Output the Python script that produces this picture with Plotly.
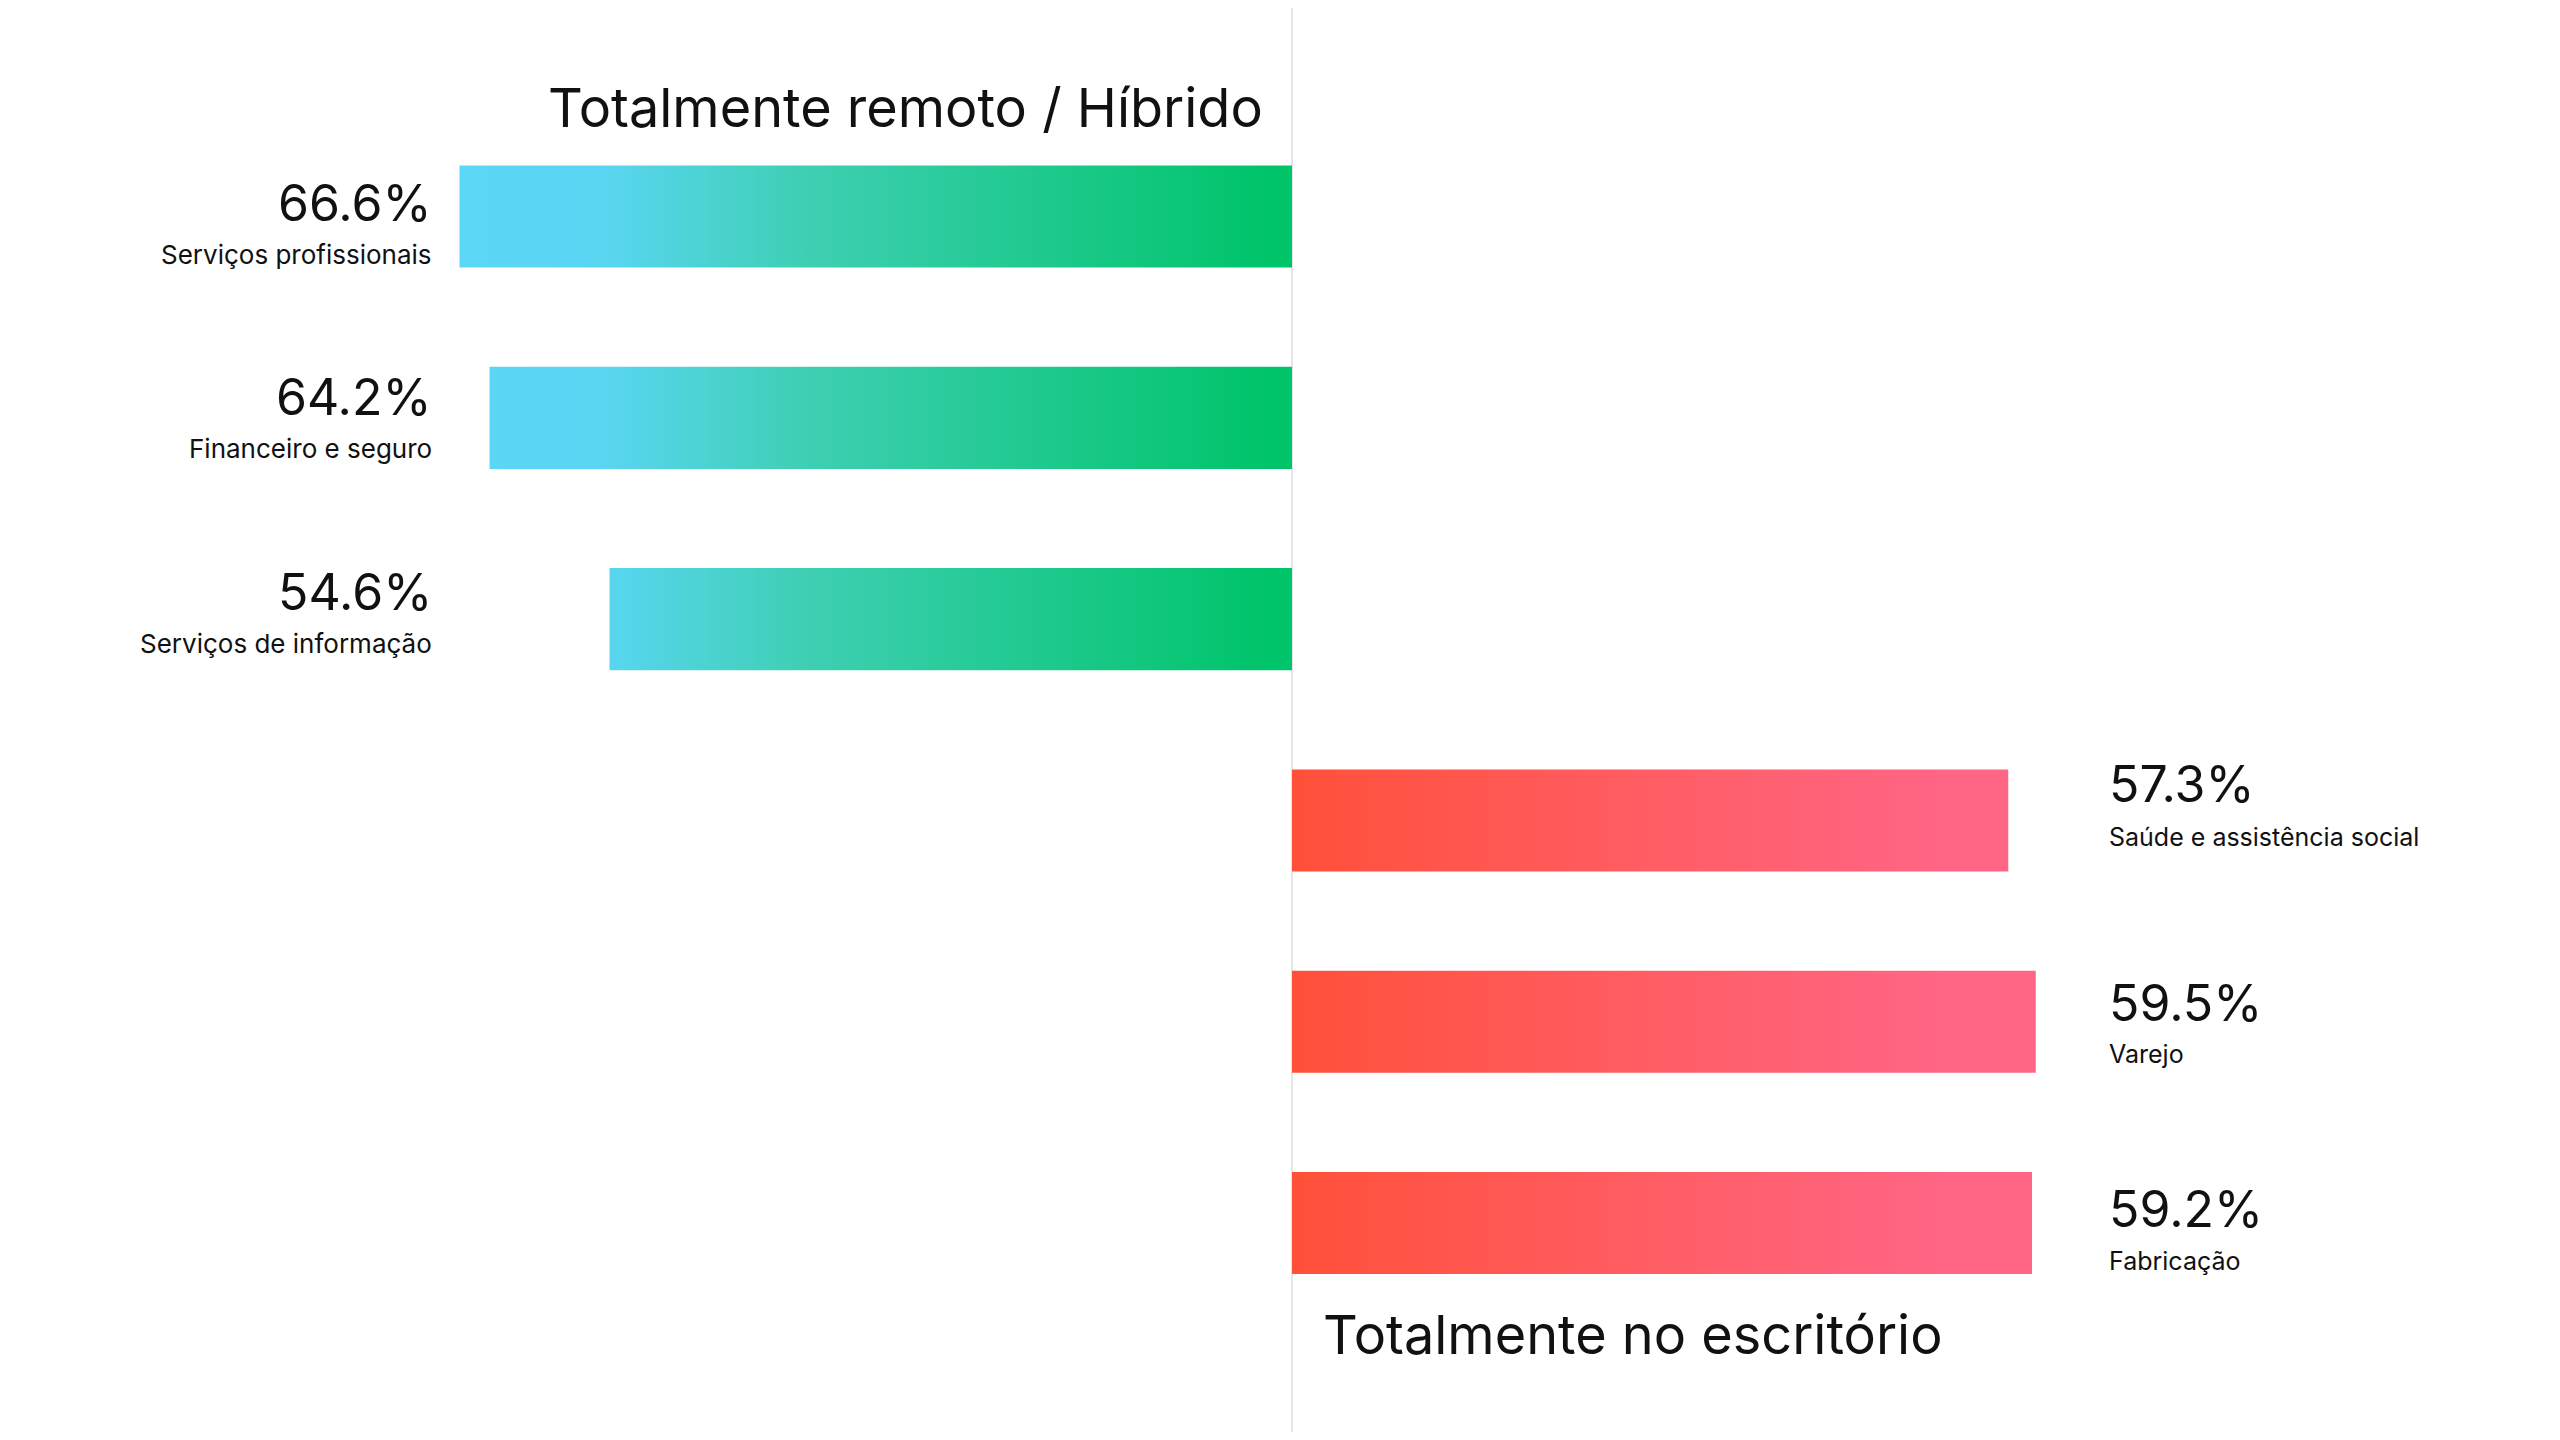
import plotly.graph_objects as go

# ==================== 데이터 ====================
remote_labels = ['Serviços profissionais', 'Financeiro e seguro', 'Serviços de informação']
remote_values = [66.6, 64.2, 54.6]
office_labels = ['Saúde e assistência social', 'Varejo', 'Fabricação']
office_values = [57.3, 59.5, 59.2]

TITLE_REMOTE = 'Totalmente remoto / Híbrido'
TITLE_OFFICE = 'Totalmente no escritório'

# 스타일
FONT = 'Inter'
INK = '#111111'
BAR_HALF = 0.2535
GREEN_SCALE = [[0, '#5BD7F7'], [0.17, '#59D6F2'], [0.42, '#3ECFB2'], [0.97, '#00C46A'], [1, '#00C46A']]
RED_SCALE = [[0, '#FF5038'], [0.07, '#FF5240'], [0.5, '#FF5E66'], [0.87, '#FF6584'], [1, '#FF6685']]
# 라벨 세로 위치 보정 (px, 막대 중심 기준 위쪽 +)
pct_shift = [14, 21, 27, 36, 19, 14]
cat_shift = [-38, -31, -24, -17, -32, -38]


def bar_polygons(values, rows, sign):
    xs, ys = [], []
    for v, r in zip(values, rows):
        xs += [0, sign * v, sign * v, 0, 0, None]
        ys += [r - BAR_HALF, r - BAR_HALF, r + BAR_HALF, r + BAR_HALF, r - BAR_HALF, None]
    return xs, ys


remote_rows = list(range(len(remote_values)))
office_rows = [len(remote_values) + i for i in range(len(office_values))]

fig = go.Figure()

rx, ry = bar_polygons(remote_values, remote_rows, -1)
fig.add_trace(go.Scatter(
    x=rx, y=ry, mode='lines', fill='toself', line=dict(width=0),
    fillgradient=dict(type='horizontal', colorscale=GREEN_SCALE),
    hoverinfo='skip', showlegend=False,
))

ox, oy = bar_polygons(office_values, office_rows, 1)
fig.add_trace(go.Scatter(
    x=ox, y=oy, mode='lines', fill='toself', line=dict(width=0),
    fillgradient=dict(type='horizontal', colorscale=RED_SCALE),
    hoverinfo='skip', showlegend=False,
))

annotations = []
for i, (lab, v, r) in enumerate(zip(remote_labels, remote_values, remote_rows)):
    annotations.append(dict(x=-68.65, y=r, xref='x', yref='y', text=f'{v:.1f}%',
                            xanchor='right', yanchor='middle', yshift=pct_shift[i], showarrow=False,
                            font=dict(family=FONT, size=50, color=INK)))
    annotations.append(dict(x=-68.65, y=r, xref='x', yref='y', text=lab,
                            xanchor='right', yanchor='middle', yshift=cat_shift[i], showarrow=False,
                            font=dict(family=FONT, size=26, color=INK)))
for j, (lab, v, r) in enumerate(zip(office_labels, office_values, office_rows)):
    k = len(remote_values) + j
    annotations.append(dict(x=65.2, y=r, xref='x', yref='y', text=f'{v:.1f}%',
                            xanchor='left', yanchor='middle', yshift=pct_shift[k], showarrow=False,
                            font=dict(family=FONT, size=50, color=INK)))
    annotations.append(dict(x=65.2, y=r, xref='x', yref='y', text=lab,
                            xanchor='left', yanchor='middle', yshift=cat_shift[k], showarrow=False,
                            font=dict(family=FONT, size=25, color=INK)))

# 제목
annotations.append(dict(x=-2.2, y=-0.5415, xref='x', yref='y', text=TITLE_REMOTE,
                        xanchor='right', yanchor='middle', showarrow=False,
                        font=dict(family=FONT, size=54, color=INK)))
annotations.append(dict(x=2.3, y=5.552, xref='x', yref='y', text=TITLE_OFFICE,
                        xanchor='left', yanchor='middle', showarrow=False,
                        font=dict(family=FONT, size=54, color=INK)))

fig.update_layout(
    width=2544, height=1424,
    margin=dict(l=0, r=0, t=0, b=0),
    paper_bgcolor='white', plot_bgcolor='white',
    annotations=annotations,
    xaxis=dict(range=[-102.72, 100.8], showgrid=False, showticklabels=False, ticks='',
               zeroline=True, zerolinecolor='#E6E6E6', zerolinewidth=2, fixedrange=True),
    yaxis=dict(range=[6.038, -1.036], showgrid=False, showticklabels=False, ticks='',
               zeroline=False, fixedrange=True),
)

fig.write_html("out.html")
